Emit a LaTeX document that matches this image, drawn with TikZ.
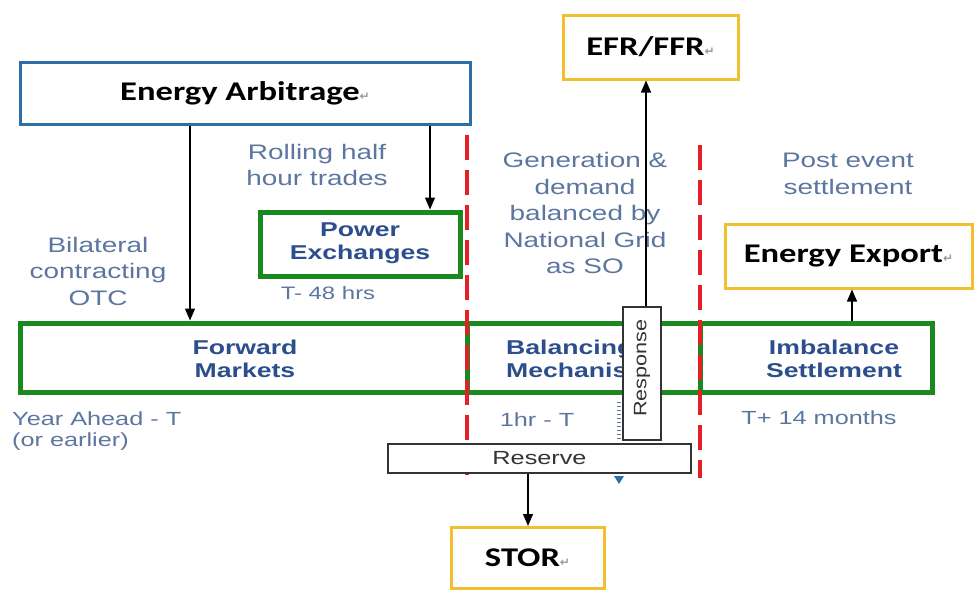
\documentclass[tikz,border=0pt]{standalone}
\usepackage{fontspec}
\setmainfont{Liberation Sans}
\newfontfamily\labfont[FakeStretch=1.28]{Carlito}
\newfontfamily\bfont[FakeStretch=1.33]{Liberation Sans}
\newfontfamily\rfont[FakeStretch=1.2]{Liberation Sans}
\newfontfamily\dvfont{DejaVu Sans}
\usetikzlibrary{arrows.meta}
\definecolor{boxblue}{RGB}{46,110,168}
\definecolor{gold}{RGB}{240,192,48}
\definecolor{grn}{RGB}{26,138,30}
\definecolor{dashred}{RGB}{230,30,40}
\definecolor{txtblue}{RGB}{92,118,160}
\definecolor{dblue}{RGB}{44,78,140}
\newcommand{\retmark}{{\dvfont\fontsize{12}{12}\selectfont\color{gray!80}↵}}
\tikzset{
  labbox/.style={draw, line width=3pt, fill=white, inner sep=0pt, font=\labfont\bfseries\fontsize{27}{32}\selectfont},
  greenbox/.style={draw=grn, line width=5pt, inner sep=0pt},
  bluetxt/.style={text=txtblue, align=center, inner sep=0pt, font=\bfont\fontsize{21}{26.5}\selectfont},
  boldtxt/.style={text=dblue, align=center, inner sep=0pt, font=\bfont\bfseries\fontsize{20}{23.5}\selectfont},
  graybox/.style={draw=black!80, line width=1.6pt, fill=white, inner sep=0pt, text=black!80},
  arr/.style={line width=1.3pt, -{Triangle[width=10pt,length=12pt]}},
  reddash/.style={draw=dashred, line width=4pt, dash pattern=on 25pt off 10pt}
}
\begin{document}
\begin{tikzpicture}[x=1pt,y=-1pt]
\useasboundingbox[fill=white] (0,0) rectangle (976,589);
% label boxes
\node[labbox, draw=boxblue, minimum width=450pt, minimum height=62pt] (ea) at (245,93) {Energy Arbitrage\retmark};
\node[labbox, draw=gold, minimum width=175pt, minimum height=64pt] (efr) at (650.5,47) {EFR/FFR\retmark};
\node[labbox, draw=gold, minimum width=247pt, minimum height=64pt] (exp) at (848.5,256) {Energy Export\retmark};
\node[labbox, draw=gold, minimum width=153pt, minimum height=61pt] (stor) at (527.5,558) {STOR\retmark};
% green boxes
\node[greenbox, minimum width=200pt, minimum height=64pt] (pe) at (360,244) {};
\node[boldtxt] (pet) at (360,243) {Power\\Exchanges};
\node[greenbox, minimum width=447pt, minimum height=69pt] (fwd) at (243.5,357.5) {};
\node[greenbox, minimum width=233pt, minimum height=69pt] (bal) at (583.5,357.5) {};
\node[greenbox, minimum width=232pt, minimum height=69pt] (imb) at (816,357.5) {};
\node[boldtxt] (fwdt) at (245,359) {Forward\\Markets};
\node[boldtxt, align=left, anchor=west] (balt) at (506,359) {Balancing\\Mechanism};
\node[boldtxt] (imbt) at (834,359) {Imbalance\\Settlement};
% blue descriptive texts
\node[bluetxt] (roll) at (317,165) {Rolling half\\hour trades};
\node[bluetxt] (bil) at (98,271) {Bilateral\\contracting\\OTC};
\node[bluetxt, font=\bfont\fontsize{18}{22}\selectfont] (t48) at (328,293) {T- 48 hrs};
\node[bluetxt] (gen) at (585,213) {Generation \&\\demand\\balanced by\\National Grid\\as SO};
\node[bluetxt] (post) at (848,174) {Post event\\settlement};
\node[bluetxt, align=left, anchor=west, font=\bfont\fontsize{19}{21}\selectfont] (year) at (12,431) {Year Ahead - T\\(or earlier)};
\node[bluetxt, font=\bfont\fontsize{19}{21}\selectfont] (hr) at (537,420) {1hr - T};
\node[bluetxt, font=\bfont\fontsize{19}{21}\selectfont] (tp) at (819,418) {T+ 14 months};
% red dashed lines
\coordinate (r1a) at (467,135); \coordinate (r1b) at (467,478);
\coordinate (r2a) at (700,145); \coordinate (r2b) at (700,478);
\draw[reddash] (r1a) -- (r1b);
\draw[reddash] (r2a) -- (r2b);
% small ticks and marker
\foreach \yy in {402,406,...,438} \draw[txtblue, line width=0.6pt] (617,\yy) -- (621,\yy);
\fill[boxblue] (614,476) -- (624,476) -- (619,484) -- cycle;
% response and reserve boxes
\node[graybox, minimum width=38pt, minimum height=133pt] (resp) at (642,373.5) {};
\node[rotate=90, text=black!80, font=\rfont\fontsize{18}{20}\selectfont, inner sep=0pt] (respt) at (642,368) {Response};
\node[graybox, minimum width=303pt, minimum height=29pt, font=\bfont\fontsize{19}{21}\selectfont] (res) at (539.5,458.5) {Reserve};
% arrows
\coordinate (c1) at (190,0);
\coordinate (c2) at (430,0);
\coordinate (c3) at (646,0);
\coordinate (c4) at (852,0);
\coordinate (c5) at (528,0);
\draw[arr] (c1 |- ea.south) -- (c1 |- fwd.north);
\draw[arr] (c2 |- ea.south) -- (c2 |- pe.north);
\draw[arr] (c3 |- resp.north) -- (c3 |- efr.south);
\draw[arr] (c4 |- imb.north) -- (c4 |- exp.south);
\draw[arr] (c5 |- res.south) -- (c5 |- stor.north);
\end{tikzpicture}
\end{document}
